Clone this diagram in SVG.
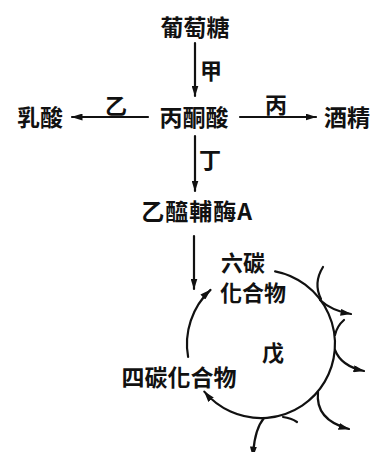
<svg xmlns="http://www.w3.org/2000/svg" width="372" height="452" viewBox="0 0 372 452">
<style>
text{font-family:"Noto Sans CJK TC","Noto Sans CJK SC",sans-serif;font-weight:bold;fill:#111;font-size:23px}
.lbl{font-size:22px}
.sm{font-size:22px}
.c{fill:none;stroke:#111;stroke-width:2.2;stroke-linecap:round}
.a{marker-end:url(#ah)}
</style>
<defs>
<marker id="ah" markerUnits="userSpaceOnUse" markerWidth="11" markerHeight="7" refX="10.5" refY="3.5" orient="auto">
<path d="M0,0 L11,3.5 L0,7 Z" fill="#111"/>
</marker>
</defs>
<rect width="372" height="452" fill="#fff"/>
<g id="connectors">
<path class="c a" d="M195,43 V96"/>
<path class="c a" d="M148,117 H72"/>
<path class="c a" d="M240,117 H316"/>
<path class="c a" d="M195,136 V191"/>
<path class="c a" d="M194,236 V289"/>
<path class="c a" d="M188.1,356.9 A74,74 0 0 1 210.5,289.9"/>
<path class="c a" d="M275.1,271.4 A74,74 0 1 1 204.3,391.6"/>
<path class="c a" d="M320,300 Q332,311 351,314"/>
<path class="c" d="M323,267 Q313,283 321,299"/>
<path class="c" d="M344,320 Q337,326 335,335"/>
<path class="c a" d="M335,350 Q341,366 364,371"/>
<path class="c a" d="M318,392 Q315,420 349,429"/>
<path class="c" d="M297,422 Q291,418 283,417"/>
<path class="c a" d="M264,418 Q254,430 253,457"/>
<text class="lbl" x="200" y="79">甲</text>
<text class="lbl" x="105" y="114">乙</text>
<text class="lbl" x="265" y="113">丙</text>
<text class="lbl" x="199" y="168">丁</text>
</g>
<g id="glucose"><text x="195" y="36" text-anchor="middle">葡萄糖</text></g>
<g id="pyruvate"><text x="194" y="126" text-anchor="middle">丙酮酸</text></g>
<g id="lactate"><text x="40" y="126" text-anchor="middle">乳酸</text></g>
<g id="ethanol"><text x="347" y="126" text-anchor="middle">酒精</text></g>
<g id="acetylcoa"><text x="197" y="220" text-anchor="middle" letter-spacing="1">乙醯輔酶A</text></g>
<g id="c6"><text class="sm" x="221" y="271">六碳</text><text class="sm" x="220" y="301">化合物</text></g>
<g id="cycle"><text class="lbl" x="262" y="361">戊</text></g>
<g id="c4"><text x="179" y="386" text-anchor="middle">四碳化合物</text></g>
</svg>
